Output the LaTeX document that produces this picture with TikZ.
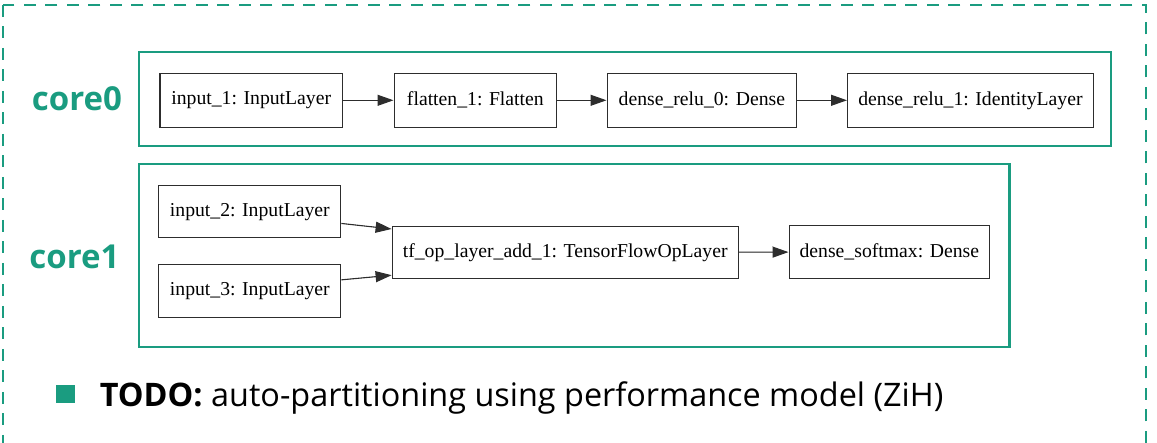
\documentclass[tikz,border=0pt]{standalone}
\usepackage{fontspec}
\setmainfont{Liberation Serif}
\newfontfamily\labelsans{Open Sans}
\usetikzlibrary{arrows.meta}
\definecolor{zihteal}{RGB}{26,156,128}
\definecolor{boxgray}{RGB}{45,45,45}

\begin{document}
\begin{tikzpicture}[x=1pt,y=-1pt,
  layer/.style={draw=boxgray, line width=1.2pt, inner sep=0pt, anchor=north west,
    font=\fontsize{19.7}{22}\selectfont},
  flow/.style={-{Triangle[length=16pt,width=11pt]}, line width=1.1pt, draw=boxgray, fill=boxgray},
  corebox/.style={draw=zihteal, line width=2.3pt},
  corelabel/.style={font=\labelsans\bfseries\fontsize{33}{36}\selectfont, text=zihteal},
]
\useasboundingbox (0,0) rectangle (1157,443);

% outer dashed frame (continues below the visible area)
\draw[zihteal, line width=2pt, dash pattern=on 12pt off 9.5pt]
  (2.7,5) rectangle (1146,480);

% partition frames
\draw[corebox] (139.3,51.7) rectangle (1111.3,145.7);
\draw[corebox] (139.3,164) rectangle (1009.5,347.3);

\node[corelabel] (c0) at (77,98.5) {core0};
\node[corelabel] (c1) at (74.5,257) {core1};

% core0 graph
\node[layer, minimum width=182.7pt, minimum height=54pt] (in1) at (159.3,72.7) {input\_1: InputLayer};
\node[layer, minimum width=162.5pt, minimum height=54pt] (fl1) at (393.5,72.7) {flatten\_1: Flatten};
\node[layer, minimum width=189.5pt, minimum height=54pt] (dr0) at (606.5,72.7) {dense\_relu\_0: Dense};
\node[layer, minimum width=245.7pt, minimum height=54pt] (dr1) at (847,72.7) {dense\_relu\_1: IdentityLayer};

\draw[flow] (in1) -- (fl1);
\draw[flow] (fl1) -- (dr0);
\draw[flow] (dr0) -- (dr1);

% core1 graph
\node[layer, minimum width=182pt, minimum height=52.3pt] (in2) at (158.2,185) {input\_2: InputLayer};
\node[layer, minimum width=182pt, minimum height=52.3pt] (in3) at (158.2,264.3) {input\_3: InputLayer};
\node[layer, minimum width=346pt, minimum height=51.7pt] (tf) at (391.6,226) {tf\_op\_layer\_add\_1: TensorFlowOpLayer};
\node[layer, minimum width=200.5pt, minimum height=52.7pt] (sm) at (788.5,225) {dense\_softmax: Dense};

\draw[flow] ([yshift=-11.7pt]in2.east) -- ([yshift=-3pt]tf.north west);
\draw[flow] ([yshift=11.2pt]in3.east) -- ([yshift=3.7pt]tf.south west);
\draw[flow] (tf) -- (sm);

% note line
\node[fill=zihteal, minimum size=18.4pt, inner sep=0pt] (bul) at (65.5,394.2) {};
\node[anchor=base west, inner sep=0pt, font=\labelsans\fontsize{32.4}{36}\selectfont] (todo) at (99.6,406.7)
  {\textbf{TODO:} auto-partitioning using performance model (ZiH)};
\end{tikzpicture}
\end{document}
